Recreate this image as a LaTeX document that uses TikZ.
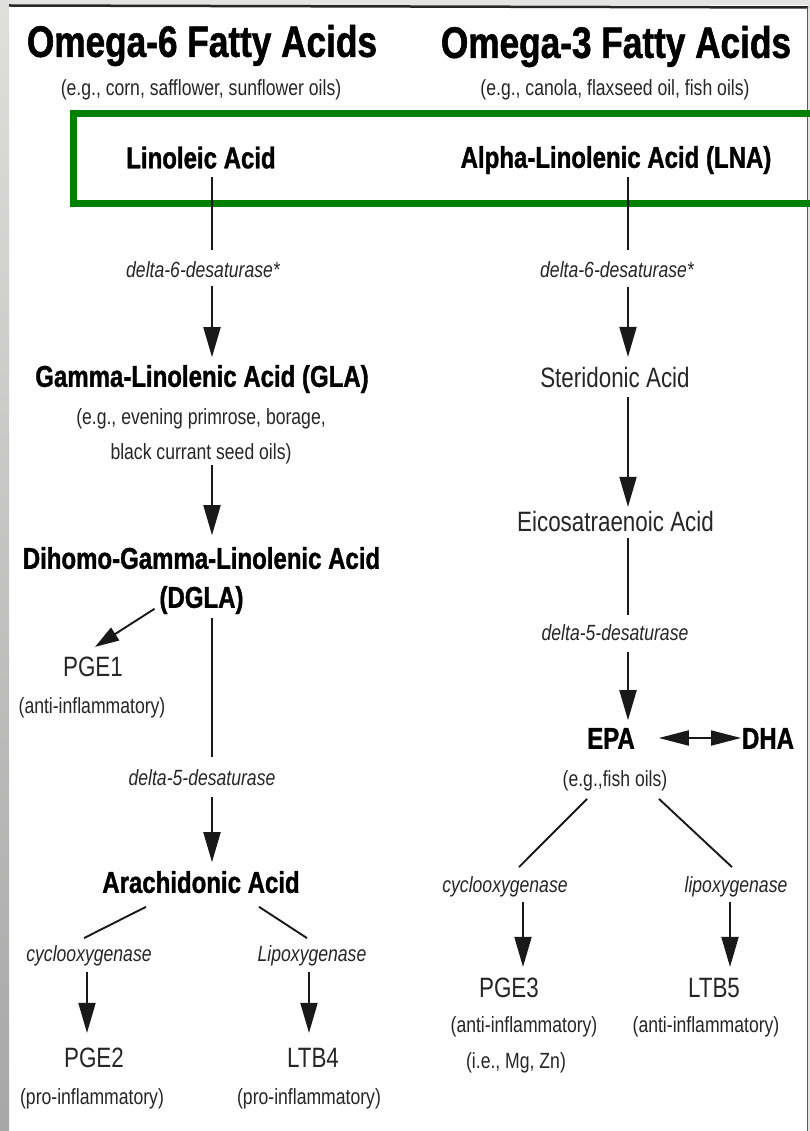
\documentclass[tikz,border=0pt]{standalone}
\usepackage{fontspec}
\usetikzlibrary{arrows.meta}
\newfontfamily\condfont[FakeStretch=0.8, BoldFeatures={FakeBold=1.2}]{Liberation Sans}
\definecolor{boxgreen}{RGB}{0,128,0}
\definecolor{stripTop}{RGB}{222,224,220}
\definecolor{stripBot}{RGB}{166,168,165}
\definecolor{frameGrey}{RGB}{90,90,90}
\definecolor{bandGrey}{RGB}{228,229,225}

\begin{document}
\begin{tikzpicture}[x=1pt,y=-1pt,
  every node/.style={inner sep=0pt, outer sep=0pt, text depth=0pt, anchor=center},
  ttltext/.style={font=\condfont\bfseries\fontsize{44}{48}\selectfont, text height=31.7pt},
  acidtext/.style={font=\condfont\bfseries\fontsize{30}{34}\selectfont, text height=21.6pt},
  plaintext/.style={font=\condfont\fontsize{28}{32}\selectfont, text height=20.2pt, text=black!85},
  notetext/.style={font=\condfont\fontsize{22}{26}\selectfont, text height=15.8pt, text=black!85},
  enztext/.style={font=\condfont\itshape\fontsize{22}{26}\selectfont, text height=15.8pt, text=black!85},
  link/.style={line width=1.9pt, draw=black!90},
  flow/.style={link, -{Triangle[length=30pt,width=17pt]}},
  sideflow/.style={link, -{Triangle[length=24pt,width=15pt]}},
  dblflow/.style={link, {Triangle[length=30pt,width=15pt]}-{Triangle[length=30pt,width=15pt]}}
]
% page, frame and the grey strip on the left
\useasboundingbox (0,0) rectangle (810,1131);
\fill[white] (0,0) rectangle (810,1131);
\fill[bandGrey] (0,0) rectangle (810,5);
\fill[bandGrey] (808,0) rectangle (810,1131);
\shade[top color=stripTop, bottom color=stripBot] (0,0) rectangle (9,1131);
\draw[line width=2.5pt, black!85] (9,5.5) -- (808,7.5);
\draw[line width=1.5pt, frameGrey] (807.5,7) -- (807.5,1131);

% column axes
\coordinate (colL) at (212,0);
\coordinate (colR) at (628,0);
\coordinate (colLa) at (87,0);
\coordinate (colLb) at (309,0);
\coordinate (colRa) at (523,0);
\coordinate (colRb) at (730,0);

% omega-6 column
\node[ttltext] (t6) at (202,41) {Omega-6 Fatty Acids};
\node[notetext] (t6s) at (201,88) {(e.g., corn, safflower, sunflower oils)};
\node[acidtext] (lin) at (201,157.5) {Linoleic Acid};
\node[enztext] (d6L) at (203,270) {delta-6-desaturase*};
\node[acidtext] (gla) at (202,376) {Gamma-Linolenic Acid (GLA)};
\node[notetext] (gla1) at (201,417) {(e.g., evening primrose, borage,};
\node[notetext] (gla2) at (201,452) {black currant seed oils)};
\node[acidtext] (dgla1) at (201.5,558) {Dihomo-Gamma-Linolenic Acid};
\node[acidtext] (dgla2) at (201.5,597) {(DGLA)};
\node[plaintext] (pge1) at (93,666) {PGE1};
\node[notetext] (pge1n) at (92,706) {(anti-inflammatory)};
\node[enztext] (d5L) at (202,778) {delta-5-desaturase};
\node[acidtext] (arach) at (201,882) {Arachidonic Acid};
\node[enztext] (cycL) at (89,954) {cyclooxygenase};
\node[enztext] (lipL) at (312,954) {Lipoxygenase};
\node[plaintext] (pge2) at (94,1057) {PGE2};
\node[notetext] (pge2n) at (92,1097) {(pro-inflammatory)};
\node[plaintext] (ltb4) at (313,1057) {LTB4};
\node[notetext] (ltb4n) at (309,1097) {(pro-inflammatory)};

% omega-3 column
\node[ttltext] (t3) at (616,42) {Omega-3 Fatty Acids};
\node[notetext] (t3s) at (615,88) {(e.g., canola, flaxseed oil, fish oils)};
\node[acidtext] (alpha) at (616,157) {Alpha-Linolenic Acid (LNA)};
\node[enztext] (d6R) at (617,270) {delta-6-desaturase*};
\node[plaintext] (ster) at (615,377) {Steridonic Acid};
\node[plaintext] (eico) at (615.5,521) {Eicosatraenoic Acid};
\node[enztext] (d5R) at (615,633) {delta-5-desaturase};
\node[acidtext] (epa) at (611,738) {EPA};
\node[acidtext] (dha) at (768,738) {DHA};
\node[notetext] (epan) at (615,779) {(e.g.,fish oils)};
\node[enztext] (cycR) at (505,885) {cyclooxygenase};
\node[enztext] (lipR) at (736,885) {lipoxygenase};
\node[plaintext] (pge3) at (509,987) {PGE3};
\node[notetext] (pge3n) at (524,1025) {(anti-inflammatory)};
\node[notetext] (pge3m) at (516,1061) {(i.e., Mg, Zn)};
\node[plaintext] (ltb5) at (714,987) {LTB5};
\node[notetext] (ltb5n) at (706,1025) {(anti-inflammatory)};

% highlight round the parent acids
\draw[boxgreen, line width=7pt] (73.5,113.5) rectangle (830,204);

% omega-6 pathway
\draw[link, shorten <=9pt, shorten >=12pt] (lin.south -| colL) -- (d6L.north -| colL);
\draw[flow, shorten <=8pt, shorten >=8pt] (d6L.south -| colL) -- (gla.north -| colL);
\draw[flow, shorten <=5pt, shorten >=12pt] (gla2.south -| colL) -- (dgla1.north -| colL);
\draw[sideflow] ([shift={(-47,1)}]dgla2.south) -- ([shift={(2,-9)}]pge1.north);
\draw[link, shorten <=10pt, shorten >=13pt] (dgla2.south -| colL) -- (d5L.north -| colL);
\draw[flow, shorten <=11pt, shorten >=9pt] (d5L.south -| colL) -- (arach.north -| colL);
\draw[link] ([shift={(-55,14)}]arach.south) -- ([shift={(-5,-8)}]cycL.north);
\draw[link] ([shift={(58,14)}]arach.south) -- ([shift={(-5,-8)}]lipL.north);
\draw[flow, shorten <=10pt, shorten >=14pt] (cycL.south -| colLa) -- (pge2.north -| colLa);
\draw[flow, shorten <=10pt, shorten >=14pt] (lipL.south -| colLb) -- (ltb4.north -| colLb);

% omega-3 pathway
\draw[link, shorten <=9pt, shorten >=12pt] (alpha.south -| colR) -- (d6R.north -| colR);
\draw[flow, shorten <=9pt, shorten >=10pt] (d6R.south -| colR) -- (ster.north -| colR);
\draw[flow, shorten <=10pt, shorten >=4pt] (ster.south -| colR) -- (eico.north -| colR);
\draw[link, shorten <=7pt, shorten >=10pt] (eico.south -| colR) -- (d5R.north -| colR);
\draw[flow, shorten <=11pt, shorten >=7pt] (d5R.south -| colR) -- (epa.north -| colR);
\draw[dblflow, shorten <=24pt, shorten >=1pt] (epa.east) -- (dha.west);
\draw[link] ([shift={(-28,12)}]epan.south) -- ([shift={(14,-10)}]cycR.north);
\draw[link] ([shift={(44,12)}]epan.south) -- ([shift={(-4,-10)}]lipR.north);
\draw[flow, shorten <=9pt, shorten >=10pt] (cycR.south -| colRa) -- (pge3.north -| colRa);
\draw[flow, shorten <=9pt, shorten >=10pt] (lipR.south -| colRb) -- (ltb5.north -| colRb);
\end{tikzpicture}
\end{document}
